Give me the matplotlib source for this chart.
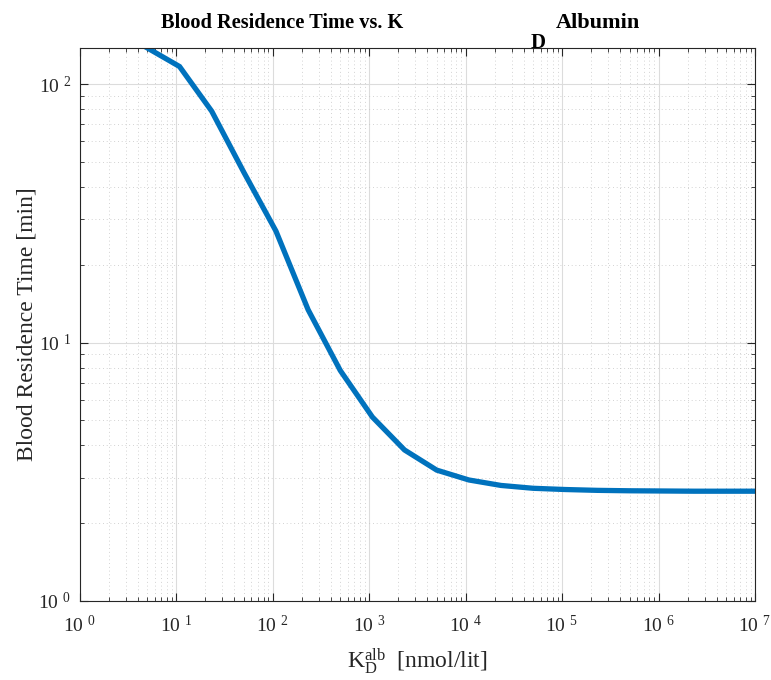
import matplotlib
matplotlib.use("Agg")
import matplotlib.pyplot as plt
from matplotlib.ticker import LogLocator, FixedLocator, NullFormatter

plt.rcParams['font.family'] = ['Liberation Serif', 'DejaVu Serif']
plt.rcParams['mathtext.fontset'] = 'custom'
plt.rcParams['mathtext.rm'] = 'Liberation Serif'
plt.rcParams['mathtext.it'] = 'Liberation Serif'

kd_alb = [5, 10.77, 23.21, 50, 107.7, 232.1, 500, 1077, 2321, 5000, 10772,
          23208, 50000, 107722, 232079, 500000, 1077217, 2320794, 5000000, 10772173]
residence_time = [138, 117, 78.6, 45.6, 27, 13.4, 7.8, 5.15, 3.84, 3.21, 2.94,
                  2.80, 2.73, 2.70, 2.68, 2.67, 2.665, 2.66, 2.66, 2.66]
x_tick_exps = [0, 1, 2, 3, 4, 5, 6, 7]
y_tick_exps = [0, 1, 2]

fig = plt.figure(figsize=(7.71, 6.8), dpi=100)
ax = fig.add_axes([80/771, 79/680, 675/771, 553/680])

ax.plot(kd_alb, residence_time, color='#0072BD', linewidth=3.8, solid_joinstyle='miter')
ax.set_xscale('log')
ax.set_yscale('log')
ax.set_xlim(1, 1e7)
ax.set_ylim(1, 138)

ax.xaxis.set_major_locator(FixedLocator([10.0**e for e in x_tick_exps]))
ax.yaxis.set_major_locator(FixedLocator([10.0**e for e in y_tick_exps]))
ax.set_xticklabels([r'$\mathregular{10^{\ \,%d}}$' % e for e in x_tick_exps])
ax.set_yticklabels([r'$\mathregular{10^{\ \,%d}}$' % e for e in y_tick_exps])
ax.xaxis.set_minor_locator(LogLocator(base=10, subs=range(2, 10), numticks=20))
ax.yaxis.set_minor_locator(LogLocator(base=10, subs=range(2, 10), numticks=20))
ax.xaxis.set_minor_formatter(NullFormatter())
ax.yaxis.set_minor_formatter(NullFormatter())

ax.tick_params(which='both', direction='in', top=True, right=True, colors='#262626',
               labelcolor='#262626', labelsize=14)
ax.tick_params(which='major', length=6, width=0.8)
ax.tick_params(which='minor', length=3, width=0.6)
ax.tick_params(axis='x', pad=10)
ax.tick_params(axis='y', pad=6)

ax.grid(True, which='major', color='#dcdcdc', linewidth=0.8, linestyle='-')
ax.grid(True, which='minor', color='#c4c4c4', linewidth=0.6, linestyle=(0, (1, 3.5)))
ax.set_axisbelow(True)
for s in ax.spines.values():
    s.set_color('#262626')
    s.set_linewidth(0.8)

ax.set_ylabel('Blood Residence Time [min]', fontsize=17, color='#262626', labelpad=1)
ax.set_xlabel(r'$\mathregular{K_D^{alb}}$  [nmol/lit]', fontsize=17, color='#262626', labelpad=8)

fig.text(403/771, 1 - 28/680, 'Blood Residence Time vs. K', ha='right', va='baseline',
         fontsize=14.7, fontweight='bold', color='black')
fig.text(538/771, 1 - 48/680, 'D', ha='center', va='baseline',
         fontsize=15, fontweight='bold', color='black')
fig.text(556/771, 1 - 28/680, 'Albumin', ha='left', va='baseline',
         fontsize=16, fontweight='bold', color='black')

fig.savefig('out.png', dpi=100, facecolor='white')
